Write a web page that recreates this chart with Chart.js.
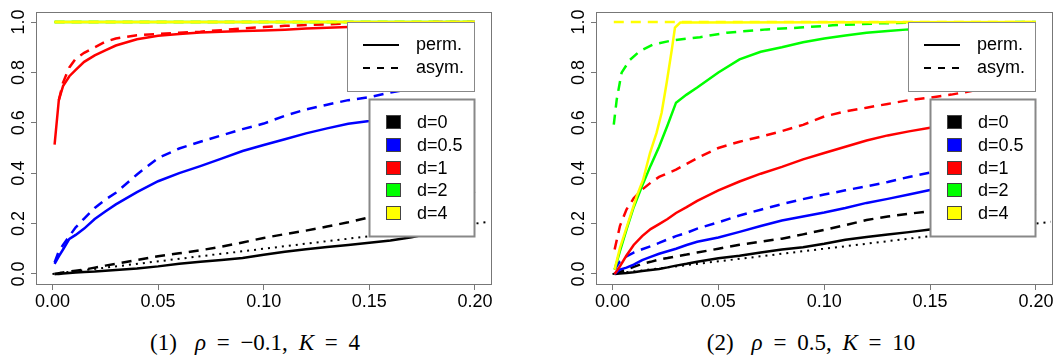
<!DOCTYPE html>
<html>
<head>
<meta charset="utf-8">
<script src="https://cdn.jsdelivr.net/npm/chart.js@4.4.1/dist/chart.umd.min.js"></script>
<style>
  body { margin: 0; background: #fff; width: 1061px; height: 360px; position: relative; overflow: hidden; }
  canvas { position: absolute; top: 0; }
  #c1 { left: 0; }
  #c2 { left: 560px; }
  .cap { position: absolute; top: 330px; width: 400px; text-align: center; font-family: "Liberation Serif", serif;
         font-size: 23px; line-height: 26px; word-spacing: 5px; white-space: nowrap; }
  .cap .n { margin-right: 18px; }
</style>
</head>
<body>
<canvas id="c1" width="530" height="320"></canvas>
<canvas id="c2" width="501" height="320"></canvas>
<div class="cap" style="left:55px"><span class="n">(1)</span><i>ρ</i> = −0.1, <i>K</i> = 4</div>
<div class="cap" style="left:611px"><span class="n">(2)</span><i>ρ</i> = 0.5, <i>K</i> = 10</div>
<script>
// tick values
var xTicks = [0, 0.05, 0.10, 0.15, 0.20];
var yTicks = [0, 0.2, 0.4, 0.6, 0.8, 1.0];

// legend entries
var lineLabels = ['perm.', 'asym.'];
var dLabels = ['d=0', 'd=0.5', 'd=1', 'd=2', 'd=4'];
var dColors = ['#000000', '#0000ff', '#ff0000', '#00ff00', '#ffff00'];

// nominal level (dotted)
var nomX = [0, 0.207];
var nomY = [0, 0.207];

// ---- panel 1: rho = -0.1, K = 4 ----
var alpha1 = [0.001, 0.003, 0.005, 0.008, 0.011, 0.015, 0.02, 0.025, 0.03, 0.04, 0.05, 0.06, 0.07,
              0.08, 0.09, 0.10, 0.11, 0.12, 0.13, 0.14, 0.15, 0.16, 0.17, 0.18, 0.19, 0.20];
var p1_d0_perm  = [0, 0, 0.002, 0.004, 0.006, 0.008, 0.010, 0.013, 0.016, 0.022, 0.030, 0.040, 0.048,
                   0.055, 0.063, 0.076, 0.088, 0.098, 0.107, 0.115, 0.124, 0.133, 0.146, 0.163, 0.177, 0.190];
var p1_d0_asym  = [0, 0.003, 0.006, 0.010, 0.013, 0.017, 0.025, 0.033, 0.040, 0.055, 0.070, 0.082, 0.094,
                   0.108, 0.125, 0.143, 0.158, 0.172, 0.188, 0.205, 0.225, 0.240, 0.260, 0.280, 0.305, 0.328];
var p1_d05_perm = [0.040, 0.070, 0.097, 0.139, 0.155, 0.180, 0.218, 0.248, 0.276, 0.325, 0.368, 0.400, 0.428,
                   0.458, 0.488, 0.512, 0.535, 0.558, 0.578, 0.596, 0.607, 0.622, 0.638, 0.658, 0.673, 0.685];
var p1_d05_asym = [0.046, 0.090, 0.115, 0.150, 0.185, 0.220, 0.262, 0.295, 0.322, 0.395, 0.460, 0.498, 0.525,
                   0.550, 0.575, 0.597, 0.628, 0.653, 0.672, 0.690, 0.702, 0.720, 0.735, 0.750, 0.765, 0.772];
var p1_d1_perm  = [0.513, 0.690, 0.746, 0.785, 0.810, 0.842, 0.868, 0.888, 0.907, 0.932, 0.946, 0.953, 0.959,
                   0.962, 0.965, 0.967, 0.970, 0.974, 0.977, 0.980, 0.982, 0.985, 0.987, 0.989, 0.991, 0.992];
var p1_d1_asym  = [null, 0.690, 0.760, 0.820, 0.855, 0.878, 0.900, 0.922, 0.935, 0.948, 0.953, 0.958, 0.962,
                   0.968, 0.975, 0.980, 0.985, 0.988, 0.991, 0.994, 0.996, 0.998, 0.999, 1, 1, 1];
var p1_flatX = [0.001, 0.2];
var p1_d2 = [1, 1];
var p1_d4 = [1, 1];

// ---- panel 2: rho = 0.5, K = 10 ----
var alpha2 = [0.001, 0.0035, 0.0066, 0.010, 0.014, 0.018, 0.022, 0.026, 0.030, 0.035, 0.040, 0.050, 0.060, 0.070,
              0.080, 0.090, 0.100, 0.110, 0.120, 0.130, 0.140, 0.150, 0.160, 0.170, 0.180, 0.190, 0.200];
var p2_d0_perm  = [0, 0.002, 0.004, 0.007, 0.012, 0.016, 0.020, 0.026, 0.033, 0.040, 0.048, 0.062, 0.072, 0.085,
                   0.097, 0.106, 0.120, 0.136, 0.147, 0.157, 0.166, 0.176, 0.185, 0.196, 0.215, 0.238, 0.255];
var p2_d0_asym  = [0, 0.008, 0.017, 0.028, 0.040, 0.048, 0.057, 0.063, 0.070, 0.077, 0.085, 0.100, 0.116, 0.128,
                   0.140, 0.157, 0.175, 0.194, 0.214, 0.228, 0.239, 0.249, 0.260, 0.275, 0.290, 0.305, 0.320];
var p2_d05_perm = [0, 0.017, 0.025, 0.037, 0.055, 0.068, 0.080, 0.090, 0.100, 0.115, 0.128, 0.145, 0.167, 0.190,
                   0.212, 0.228, 0.244, 0.262, 0.282, 0.298, 0.315, 0.333, 0.350, 0.365, 0.380, 0.395, 0.410];
var p2_d05_asym = [0.017, 0.050, 0.070, 0.085, 0.098, 0.110, 0.123, 0.137, 0.150, 0.163, 0.180, 0.205, 0.232, 0.255,
                   0.277, 0.297, 0.315, 0.332, 0.348, 0.365, 0.385, 0.402, 0.420, 0.440, 0.458, 0.476, 0.492];
var p2_d1_perm  = [0, 0.030, 0.073, 0.115, 0.150, 0.178, 0.198, 0.218, 0.242, 0.265, 0.290, 0.332, 0.367, 0.398,
                   0.425, 0.455, 0.480, 0.505, 0.530, 0.550, 0.566, 0.580, 0.598, 0.615, 0.632, 0.650, 0.665];
var p2_d1_asym  = [0.097, 0.190, 0.256, 0.300, 0.335, 0.362, 0.385, 0.400, 0.414, 0.437, 0.460, 0.500, 0.525, 0.545,
                   0.567, 0.592, 0.625, 0.645, 0.660, 0.675, 0.690, 0.700, 0.712, 0.727, 0.745, 0.760, 0.775];
var p2_d2_perm  = [0.017, 0.090, 0.176, 0.265, 0.350, 0.430, 0.505, 0.590, 0.680, 0.712, 0.740, 0.800, 0.852, 0.882,
                   0.900, 0.920, 0.935, 0.947, 0.958, 0.965, 0.971, 0.975, 0.978, 0.980, 0.982, 0.984, 0.985];
var p2_d2_asymX = [0.0006, 0.002, 0.0043, 0.0082, 0.0129, 0.0192, 0.0287, 0.0413, 0.054, 0.0729, 0.0887, 0.104, 0.126, 0.15, 0.2];
var p2_d2_asym  = [0.593, 0.693, 0.799, 0.850, 0.885, 0.911, 0.928, 0.940, 0.958, 0.971, 0.978, 0.987, 0.995, 0.999, 1.0];
var p2_d4_permX = [0.001, 0.0035, 0.0114, 0.0145, 0.0177, 0.0208, 0.0232, 0.0256, 0.028, 0.0295, 0.032, 0.2];
var p2_d4_perm  = [0.017, 0.103, 0.308, 0.375, 0.480, 0.560, 0.640, 0.760, 0.890, 0.978, 0.998, 1.0];
var p2_d4_asymX = [0.0006, 0.2];
var p2_d4_asym  = [1, 1];

var DASH = [10, 7];
var DOT = [2, 5];
var FONT = '"Liberation Sans", Arial, sans-serif';

function pts(xs, ys) {
  return xs.map(function (x, i) { return { x: x, y: ys[i] }; });
}

function line(xs, ys, color, dash, width) {
  return {
    data: pts(xs, ys),
    borderColor: color,
    borderWidth: width || 2.5,
    borderDash: dash || [],
    pointRadius: 0,
    tension: 0,
    fill: false,
    spanGaps: true
  };
}

// frame around the plot region + rotated y labels + the two legend boxes
var rPlot = {
  id: 'rPlot',
  afterDatasetsDraw: function (chart) {
    var ctx = chart.ctx, a = chart.chartArea;
    ctx.save();
    ctx.strokeStyle = '#777';
    ctx.lineWidth = 1;
    ctx.strokeRect(Math.round(a.left) + 0.5, Math.round(a.top) + 0.5,
                   Math.round(a.right - a.left), Math.round(a.bottom - a.top));
    ctx.restore();
  },
  afterDraw: function (chart) {
    var ctx = chart.ctx, a = chart.chartArea, ys = chart.scales.y;
    ctx.save();
    ctx.fillStyle = '#000';
    ctx.font = '18px ' + FONT;
    ctx.textAlign = 'center';
    ctx.textBaseline = 'middle';
    yTicks.forEach(function (v) {
      ctx.save();
      ctx.translate(a.left - 18, ys.getPixelForValue(v));
      ctx.rotate(-Math.PI / 2);
      ctx.fillText(v.toFixed(1), 0, 1);
      ctx.restore();
    });

    // line type legend
    var bx = Math.round(a.right) - 17 - 127, by = Math.round(a.top) + 10;
    ctx.fillStyle = '#fff';
    ctx.fillRect(bx, by, 127, 69);
    ctx.strokeStyle = '#888';
    ctx.lineWidth = 1;
    ctx.strokeRect(bx + 0.5, by + 0.5, 127, 69);
    ctx.textAlign = 'left';
    lineLabels.forEach(function (lab, i) {
      var yy = by + 23 + i * 23;
      ctx.strokeStyle = '#000';
      ctx.lineWidth = 2;
      ctx.setLineDash(i === 0 ? [] : [7, 7]);
      ctx.beginPath();
      ctx.moveTo(bx + 16, yy);
      ctx.lineTo(bx + 52, yy);
      ctx.stroke();
      ctx.setLineDash([]);
      ctx.fillStyle = '#000';
      ctx.fillText(lab, bx + 69, yy);
    });

    // colour legend
    var cx = Math.round(a.right) - 17 - 105, cy = Math.round(a.top) + 87;
    ctx.fillStyle = '#fff';
    ctx.fillRect(cx, cy, 105, 137);
    ctx.strokeStyle = '#888';
    ctx.strokeRect(cx + 0.5, cy + 0.5, 105, 137);
    dLabels.forEach(function (lab, i) {
      var yy = cy + 23 + i * 22.8;
      ctx.fillStyle = dColors[i];
      ctx.fillRect(cx + 17, Math.round(yy - 7), 14, 13);
      ctx.strokeStyle = '#444';
      ctx.lineWidth = 1;
      ctx.strokeRect(cx + 17.5, Math.round(yy - 7) + 0.5, 14, 13);
      ctx.fillStyle = '#000';
      ctx.fillText(lab, cx + 48, yy + 1);
    });
    ctx.restore();
  }
};

function makePanel(id, datasets, rightPad) {
  var ctx = document.getElementById(id);
  return new Chart(ctx, {
    type: 'line',
    data: { datasets: datasets.slice().reverse() },
    options: {
      responsive: false,
      animation: false,
      events: [],
      layout: { padding: { left: 0, top: 12, right: rightPad, bottom: 0 } },
      plugins: { legend: { display: false }, tooltip: { enabled: false } },
      scales: {
        x: {
          type: 'linear',
          min: -0.0078,
          max: 0.2076,
          afterBuildTicks: function (s) { s.ticks = xTicks.map(function (v) { return { value: v }; }); },
          afterFit: function (s) { s.height = 36; },
          border: { display: false },
          grid: { drawOnChartArea: false, drawTicks: true, tickLength: 6, color: '#777' },
          ticks: {
            color: '#000',
            padding: 1,
            maxRotation: 0,
            font: { family: FONT, size: 18 },
            callback: function (v) { return v.toFixed(2); }
          }
        },
        y: {
          min: -0.04,
          max: 1.04,
          afterBuildTicks: function (s) { s.ticks = yTicks.map(function (v) { return { value: v }; }); },
          afterFit: function (s) { s.width = 36; },
          border: { display: false },
          grid: { drawOnChartArea: false, drawTicks: true, tickLength: 5, color: '#777' },
          ticks: { display: false }
        }
      }
    },
    plugins: [rPlot]
  });
}

makePanel('c1', [
  line(nomX, nomY, '#000', DOT, 2),
  line(alpha1, p1_d0_perm, dColors[0]),
  line(alpha1, p1_d0_asym, dColors[0], DASH),
  line(alpha1, p1_d05_perm, dColors[1]),
  line(alpha1, p1_d05_asym, dColors[1], DASH),
  line(alpha1, p1_d1_perm, dColors[2]),
  line(alpha1, p1_d1_asym, dColors[2], DASH),
  line(p1_flatX, p1_d2, dColors[3]),
  line(p1_flatX, p1_d2, dColors[3], DASH),
  line(p1_flatX, p1_d4, dColors[4]),
  line(p1_flatX, p1_d4, dColors[4], DASH)
], 39);

makePanel('c2', [
  line(nomX, nomY, '#000', DOT, 2),
  line(alpha2, p2_d0_perm, dColors[0]),
  line(alpha2, p2_d0_asym, dColors[0], DASH),
  line(alpha2, p2_d05_perm, dColors[1]),
  line(alpha2, p2_d05_asym, dColors[1], DASH),
  line(alpha2, p2_d1_perm, dColors[2]),
  line(alpha2, p2_d1_asym, dColors[2], DASH),
  line(alpha2, p2_d2_perm, dColors[3]),
  line(p2_d2_asymX, p2_d2_asym, dColors[3], DASH),
  line(p2_d4_permX, p2_d4_perm, dColors[4]),
  line(p2_d4_asymX, p2_d4_asym, dColors[4], DASH)
], 9);
</script>
</body>
</html>
